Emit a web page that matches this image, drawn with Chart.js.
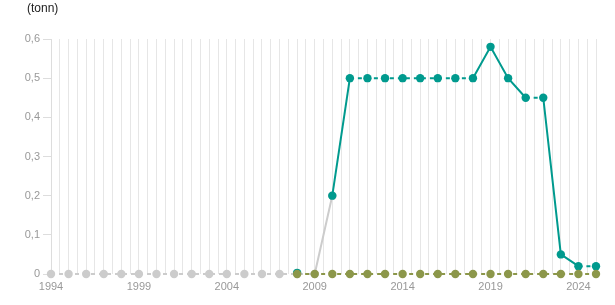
<!DOCTYPE html>
<html>
<head>
<meta charset="utf-8">
<script src="https://cdn.jsdelivr.net/npm/chart.js@4/dist/chart.umd.min.js"></script>
<style>
  body { margin: 0; background: #fff; }
  .wrap { position: relative; width: 615px; height: 305px; }
  .unit { position: absolute; left: 27px; top: 1px; font: 12px "Liberation Sans", Arial, sans-serif; color: #222; }
</style>
</head>
<body>
<div class="wrap">
  <div class="unit">(tonn)</div>
  <canvas id="myChart" width="615" height="305"></canvas>
</div>
<script>
let years = [];
for (let y = 1994; y <= 2025; y++) years.push(y);

// grey series 1994-2010
let greyVals = [0,0,0,0,0,0,0,0,0,0,0,0,0,0,0,0,0.2];
// teal series 2008-2025
let tealVals = [0.003,null,0.2,0.5,0.5,0.5,0.5,0.5,0.5,0.5,0.5,0.58,0.5,0.45,0.45,0.05,0.02,0.02];
// olive series 2008-2025
let oliveVals = [0,0,0,0,0,0,0,0,0,0,0,0,0,0,0,0,0,0];

let yTicks = [0, 0.1, 0.2, 0.3, 0.4, 0.5, 0.6];

function toPoints(startYear, vals) {
  return vals.map((v, i) => ({x: startYear + i, y: v}));
}

function line(data, color, order) {
  return {
    data: data,
    borderColor: color,
    backgroundColor: color,
    pointBackgroundColor: color,
    pointBorderWidth: 0,
    pointRadius: 4.2,
    borderWidth: 2,
    clip: false,
    order: order,
    segment: {
      borderDash: ctx => ctx.p0.parsed.y === ctx.p1.parsed.y ? [4, 4] : undefined
    }
  };
}

let ctx = document.getElementById('myChart').getContext('2d');

let chart = new Chart(ctx, {
  type: 'line',
  data: {
    datasets: [
      line(toPoints(2008, oliveVals), '#8c974a', 0),
      line(toPoints(2008, tealVals), '#009a8e', 1),
      line(toPoints(1994, greyVals), '#cccccc', 2)
    ]
  },
  options: {
    responsive: false,
    animation: false,
    layout: { padding: { top: 39, right: 19, left: 0, bottom: 0 } },
    plugins: { legend: { display: false }, tooltip: { enabled: false } },
    scales: {
      x: {
        type: 'linear',
        min: 1994,
        max: 2025,
        afterFit: s => { s.height = 31; },
        border: { display: false },
        grid: { color: '#e6e6e6', drawTicks: false },
        ticks: {
          stepSize: 0.5,
          maxTicksLimit: 100,
          autoSkip: false,
          maxRotation: 0,
          padding: 6,
          color: '#999',
          font: { family: '"Liberation Sans", Arial', size: 11 },
          callback: v => (Number.isInteger(v) && (v - 1994) % 5 === 0) ? String(v) : ''
        }
      },
      y: {
        min: 0,
        max: 0.6,
        afterFit: s => { s.width = 51; },
        afterBuildTicks: s => { s.ticks = yTicks.map(v => ({value: v})); },
        border: { color: '#dddddd' },
        grid: { drawOnChartArea: false, color: '#dddddd', tickLength: 8 },
        ticks: {
          padding: 3,
          color: '#999',
          font: { family: '"Liberation Sans", Arial', size: 11 },
          callback: v => v === 0 ? '0' : v.toFixed(1).replace('.', ',')
        }
      }
    }
  }
});
</script>
</body>
</html>
